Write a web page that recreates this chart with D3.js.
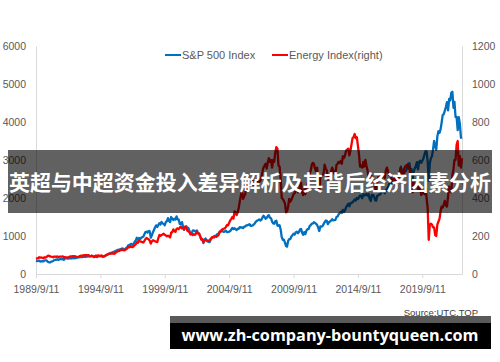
<!DOCTYPE html>
<html>
<head>
<meta charset="utf-8">
<script src="https://cdn.jsdelivr.net/npm/d3@7"></script>
<style>
  html, body { margin: 0; padding: 0; background: #fff; }
  svg { display: block; }
</style>
</head>
<body>
<div id="chart"></div>
<script>
// monthly values, first point 1989/9/11, one per month
const startDate = new Date(1989, 8, 11);

// S&P 500 Index (left axis)
const spx = [
  349, 340, 346, 353,
  329, 332, 340, 331, 361, 358, 356, 323, 306, 304, 322, 330,
  344, 367, 375, 375, 390, 371, 388, 395, 388, 392, 375, 417,
  409, 413, 404, 415, 415, 408, 424, 414, 418, 419, 431, 436,
  439, 443, 452, 440, 450, 451, 448, 464, 459, 468, 462, 466,
  482, 467, 446, 451, 457, 444, 458, 475, 463, 472, 454, 459,
  470, 487, 501, 515, 533, 545, 562, 562, 584, 582, 605, 616,
  636, 640, 645, 654, 669, 671, 640, 652, 687, 705, 757, 741,
  786, 791, 757, 801, 848, 885, 954, 899, 947, 915, 955, 970,
  980, 1049, 1102, 1112, 1091, 1134, 1121, 957, 1017, 1099, 1164, 1229,
  1280, 1238, 1286, 1335, 1302, 1373, 1329, 1320, 1283, 1363, 1389, 1469,
  1394, 1366, 1499, 1452, 1421, 1455, 1431, 1518, 1437, 1429, 1315, 1320,
  1366, 1240, 1160, 1249, 1256, 1224, 1211, 1134, 1041, 1060, 1139, 1148,
  1130, 1107, 1147, 1077, 1067, 990, 912, 916, 815, 886, 936, 880,
  856, 841, 848, 917, 964, 975, 990, 1008, 996, 1051, 1058, 1112,
  1131, 1145, 1126, 1107, 1121, 1141, 1102, 1104, 1115, 1130, 1174, 1212,
  1181, 1204, 1181, 1157, 1192, 1191, 1234, 1220, 1229, 1207, 1249, 1248,
  1280, 1281, 1295, 1311, 1270, 1270, 1277, 1304, 1336, 1378, 1401, 1418,
  1438, 1407, 1421, 1482, 1531, 1503, 1455, 1474, 1527, 1549, 1481, 1468,
  1379, 1331, 1323, 1386, 1400, 1280, 1267, 1283, 1166, 969, 896, 903,
  826, 735, 720, 873, 919, 919, 987, 1021, 1057, 1036, 1096, 1115,
  1074, 1104, 1169, 1187, 1089, 1031, 1102, 1049, 1141, 1183, 1181, 1258,
  1286, 1327, 1326, 1364, 1345, 1321, 1292, 1219, 1131, 1253, 1247, 1258,
  1312, 1366, 1408, 1398, 1310, 1362, 1379, 1407, 1441, 1412, 1416, 1426,
  1498, 1515, 1569, 1598, 1631, 1606, 1686, 1633, 1682, 1757, 1806, 1848,
  1783, 1859, 1872, 1884, 1924, 1960, 1931, 2003, 1972, 2018, 2068, 2059,
  1995, 2105, 2068, 2086, 2107, 2063, 2104, 1972, 1920, 2079, 2080, 2044,
  1940, 1932, 2060, 2065, 2097, 2099, 2174, 2171, 2168, 2126, 2199, 2239,
  2279, 2364, 2363, 2384, 2412, 2423, 2470, 2472, 2519, 2575, 2648, 2674,
  2824, 2714, 2641, 2648, 2705, 2718, 2816, 2902, 2914, 2712, 2760, 2507,
  2704, 2784, 2834, 2946, 2752, 2942, 2980, 2926, 2977, 3038, 3141, 3231,
  3226, 2954, 2450, 2912, 3044, 3100, 3271, 3500, 3363, 3270, 3622, 3756,
  3714, 3811, 3973, 4181, 4204, 4298, 4395, 4523, 4308, 4605, 4567, 4766,
  4796, 4374, 4530, 4132, 4132, 3785, 4130, 3955, 3586, 3600
];

// Energy Index (right axis)
const energy = [
  80, 82, 84, 88,
  86, 87, 85, 84, 88, 86, 90, 96, 97, 93, 91, 90,
  88, 92, 91, 90, 93, 89, 91, 92, 91, 93, 88, 89,
  86, 88, 87, 90, 93, 92, 94, 93, 94, 92, 90, 89,
  92, 95, 97, 96, 98, 99, 97, 100, 97, 99, 94, 93,
  96, 93, 91, 94, 97, 96, 98, 96, 95, 98, 94, 93,
  95, 98, 102, 104, 107, 106, 108, 107, 109, 106, 111, 116,
  119, 120, 123, 127, 126, 128, 124, 127, 130, 135, 142, 140,
  145, 143, 141, 146, 152, 157, 168, 164, 175, 172, 170, 168,
  166, 174, 183, 190, 186, 183, 176, 160, 172, 178, 175, 172,
  170, 168, 188, 205, 201, 205, 208, 212, 206, 203, 198, 202,
  198, 192, 218, 220, 235, 226, 222, 238, 240, 236, 244, 250,
  240, 242, 235, 248, 245, 228, 224, 220, 210, 212, 205, 210,
  206, 212, 222, 214, 212, 200, 182, 185, 168, 175, 180, 178,
  174, 176, 180, 184, 192, 195, 192, 198, 196, 200, 204, 218,
  222, 232, 236, 238, 240, 248, 258, 256, 270, 282, 290, 300,
  292, 330, 325, 310, 325, 350, 385, 415, 440, 395, 410, 420,
  470, 440, 450, 470, 455, 465, 490, 475, 450, 475, 500, 490,
  485, 490, 505, 535, 560, 570, 580, 555, 585, 610, 590, 600,
  560, 600, 590, 640, 668, 660, 570, 565, 500, 400, 395, 385,
  370, 325, 330, 355, 395, 380, 390, 405, 420, 425, 440, 450,
  430, 445, 460, 480, 430, 415, 445, 420, 450, 475, 495, 525,
  545, 575, 585, 580, 555, 540, 560, 490, 440, 510, 520, 520,
  530, 575, 555, 545, 495, 510, 525, 540, 560, 545, 525, 525,
  575, 580, 590, 585, 595, 580, 620, 610, 625, 650, 655, 660,
  625, 650, 680, 715, 720, 737, 715, 720, 675, 630, 565, 570,
  560, 590, 565, 600, 570, 545, 505, 495, 470, 515, 505, 470,
  455, 440, 480, 510, 505, 520, 510, 510, 525, 505, 545, 560,
  540, 520, 520, 510, 490, 495, 500, 470, 505, 500, 510, 540,
  560, 510, 505, 550, 565, 570, 575, 555, 565, 500, 490, 430,
  480, 490, 495, 495, 440, 470, 455, 415, 430, 425, 420, 450,
  400, 345, 180, 260, 265, 260, 245, 245, 205, 200, 260, 275,
  290, 330, 355, 350, 365, 385, 360, 355, 410, 460, 440, 430,
  520, 550, 600, 600, 680, 700, 570, 620, 560, 610
];

const xTickDates = [
  new Date(1989, 8, 11), new Date(1994, 8, 11), new Date(1999, 8, 11),
  new Date(2004, 8, 11), new Date(2009, 8, 11), new Date(2014, 8, 11),
  new Date(2019, 8, 11)
];
const leftTicks = [0, 1000, 2000, 3000, 4000, 5000, 6000];
const rightTicks = [0, 200, 400, 600, 800, 1000, 1200];
const seriesNames = ['S&P 500 Index', 'Energy Index(right)'];
const seriesColors = ['#0070c0', '#ff0000'];

const title = '英超与中超资金投入差异解析及其背后经济因素分析';
const siteText = 'www.zh-company-bountyqueen.com';
const sourceText = 'Source:UTC.TOP';

const W = 500, H = 362;
const plot = { left: 36, right: 462, top: 46, bottom: 274 };
const font = '"Liberation Sans", Arial, sans-serif';
const axisGray = '#d9d9d9';
const labelGray = '#595959';

const n = Math.min(spx.length, energy.length);
const dates = d3.range(n).map(i => d3.timeMonth.offset(startDate, i));

const svg = d3.select('#chart').append('svg')
  .attr('width', W)
  .attr('height', H);

const x = d3.scaleTime()
  .domain([dates[0], dates[n - 1]])
  .range([plot.left, plot.right]);
const yL = d3.scaleLinear().domain([0, 6000]).range([plot.bottom, plot.top]);
const yR = d3.scaleLinear().domain([0, 1200]).range([plot.bottom, plot.top]);

// axes
const xAxis = svg.append('g')
  .attr('transform', `translate(0,${plot.bottom})`)
  .call(d3.axisBottom(x).tickValues(xTickDates).tickFormat(d3.timeFormat('%Y/%-m/%-d')).tickSize(4).tickSizeOuter(0));
const leftAxis = svg.append('g')
  .attr('transform', `translate(${plot.left},0)`)
  .call(d3.axisLeft(yL).tickValues(leftTicks).tickFormat(d3.format('d')).tickSize(0).tickPadding(10));
const rightAxis = svg.append('g')
  .attr('transform', `translate(${plot.right},0)`)
  .call(d3.axisRight(yR).tickValues(rightTicks).tickFormat(d3.format('d')).tickSize(0).tickPadding(10));

[xAxis, leftAxis, rightAxis].forEach(a => {
  a.select('.domain').attr('stroke', axisGray);
  a.selectAll('.tick line').attr('stroke', axisGray);
  a.selectAll('.tick text')
    .attr('fill', labelGray)
    .style('font-family', font)
    .style('font-size', '10.5px');
});
xAxis.selectAll('.tick text').attr('dy', '1.15em');

// lines
const line = yScale => d3.line()
  .x((d, i) => x(dates[i]))
  .y(d => yScale(d));

svg.append('path')
  .datum(spx.slice(0, n))
  .attr('fill', 'none')
  .attr('stroke', seriesColors[0])
  .attr('stroke-width', 2.3)
  .attr('stroke-linejoin', 'round')
  .attr('d', line(yL));

svg.append('path')
  .datum(energy.slice(0, n))
  .attr('fill', 'none')
  .attr('stroke', seriesColors[1])
  .attr('stroke-width', 2.3)
  .attr('stroke-linejoin', 'round')
  .attr('d', line(yR));

// legend
const legendX = [165, 272];
const legend = svg.selectAll('.legend-item')
  .data(seriesNames)
  .join('g')
  .attr('class', 'legend-item')
  .attr('transform', (d, i) => `translate(${legendX[i]},55)`);
legend.append('line')
  .attr('x1', 0).attr('x2', 16)
  .attr('stroke', (d, i) => seriesColors[i])
  .attr('stroke-width', 2);
legend.append('text')
  .attr('x', 17)
  .attr('y', 4)
  .attr('fill', labelGray)
  .style('font-family', font)
  .style('font-size', '11px')
  .text(d => d);

// source note (its lower edge sits under the grey strip)
svg.append('text')
  .attr('x', 478)
  .attr('y', 316)
  .attr('text-anchor', 'end')
  .attr('fill', '#404040')
  .style('font-family', font)
  .style('font-size', '9.5px')
  .text(sourceText);

// title banner over the chart
svg.append('rect')
  .attr('x', 8).attr('y', 150)
  .attr('width', 484).attr('height', 63)
  .attr('fill', 'rgba(0,0,0,0.62)');
svg.append('text')
  .attr('x', 250)
  .attr('y', 190)
  .attr('text-anchor', 'middle')
  .attr('fill', '#fff')
  .style('font-family', '"Noto Sans CJK SC", sans-serif')
  .style('font-weight', 'bold')
  .style('font-size', '21px')
  .attr('textLength', 482)
  .attr('lengthAdjust', 'spacingAndGlyphs')
  .text(title);

// bottom site bar
svg.append('rect')
  .attr('x', 170).attr('y', 316)
  .attr('width', 321).attr('height', 7)
  .attr('fill', '#5a5a5a');
svg.append('rect')
  .attr('x', 170).attr('y', 323)
  .attr('width', 321).attr('height', 26)
  .attr('fill', '#000');
svg.append('text')
  .attr('x', 330)
  .attr('y', 341)
  .attr('text-anchor', 'middle')
  .attr('fill', '#fff')
  .style('font-family', '"Open Sans", sans-serif')
  .style('font-weight', 'bold')
  .style('font-size', '16px')
  .attr('textLength', 297)
  .attr('lengthAdjust', 'spacingAndGlyphs')
  .text(siteText);
</script>
</body>
</html>
